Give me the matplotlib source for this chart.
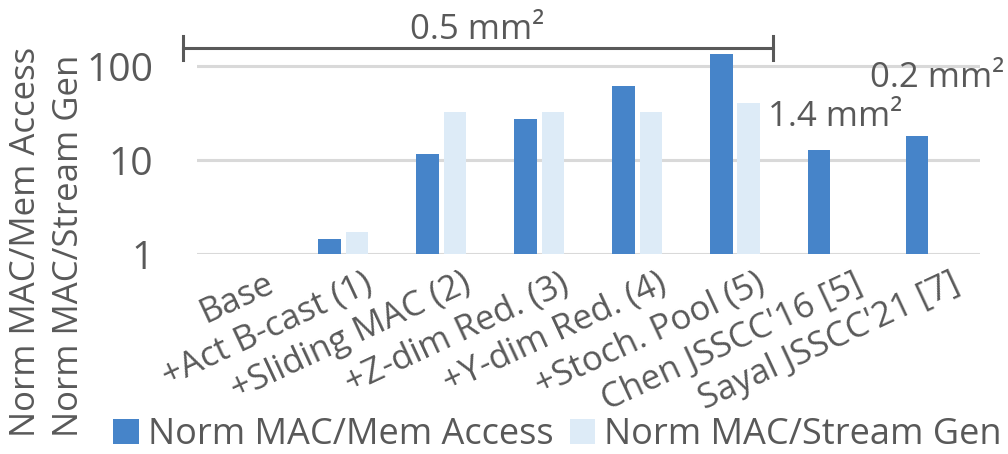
import matplotlib
matplotlib.use("Agg")
import matplotlib.pyplot as plt
import matplotlib.transforms as mtransforms
import numpy as np

plt.rcParams['font.family'] = ['Open Sans', 'DejaVu Sans']

# values (log scale, normalised to Base = 1)
categories = ["Base", "+Act B-cast (1)", "+Sliding MAC (2)", "+Z-dim Red. (3)",
              "+Y-dim Red. (4)", "+Stoch. Pool (5)", "Chen JSSCC'16 [5]",
              "Sayal JSSCC'21 [7]"]
mem_access = [1.0, 1.44, 11.5, 27.3, 60.8, 136, 12.8, 18.1]
stream_gen = [1.0, 1.71, 32.4, 32.4, 32.4, 40.4, np.nan, np.nan]

DARK = '#4684c9'
LIGHT = '#ddebf7'
TXT = '#595959'

fig = plt.figure(figsize=(10.08, 4.54), dpi=100)
ax = fig.add_axes([0.195, 0.4405, 0.777, 0.5175])

x = np.arange(len(categories))
w = 0.23
ax.bar(x - 0.025 - w / 2, np.array(mem_access) - 1, w, bottom=1, color=DARK,
       label='Norm MAC/Mem Access', zorder=3)
ax.bar(x + 0.025 + w / 2, np.array(stream_gen) - 1, w, bottom=1, color=LIGHT,
       label='Norm MAC/Stream Gen', zorder=3)

ax.set_yscale('log')
ax.set_ylim(1, 10 ** 2.5)
ax.set_xlim(-0.5, len(categories) - 0.5)
ax.set_yticks([1, 10, 100])
ax.set_yticklabels(['1', '10', '100'])
ax.minorticks_off()
ax.yaxis.grid(True, color='#d9d9d9', lw=2.2, zorder=0)
for s in ax.spines.values():
    s.set_visible(False)
ax.tick_params(axis='both', length=0)
ax.tick_params(axis='y', labelsize=28, labelcolor=TXT, pad=31)
ax.set_xticks(x)
ax.set_xticklabels(categories, rotation=25, ha='right', va='top',
                   rotation_mode='anchor', fontsize=25, color=TXT)
ax.tick_params(axis='x', pad=9)
shift = mtransforms.ScaledTranslation(0.2, 0, fig.dpi_scale_trans)
for lab in ax.get_xticklabels():
    lab.set_transform(lab.get_transform() + shift)

# area bracket
ax.plot([-0.64, 5.39], [155, 155], color=TXT, lw=2.2, clip_on=False)
for xe in (-0.64, 5.39):
    ax.plot([xe, xe], [155 * 10 ** (-12 / 94), 155 * 10 ** (12 / 94)],
            color=TXT, lw=2.2, clip_on=False)
ax.text(2.37, 240, '0.5 mm²', ha='center', va='center', fontsize=25, color=TXT)
ax.text(6.02, 28.7, '1.4 mm²', ha='center', va='center', fontsize=25, color=TXT)
ax.text(7.06, 74.5, '0.2 mm²', ha='center', va='center', fontsize=25,
        color=TXT, clip_on=False)

fig.text(0.026, 0.037, 'Norm MAC/Mem Access', rotation=90, ha='center',
         va='bottom', fontsize=25, color=TXT)
fig.text(0.068, 0.037, 'Norm MAC/Stream Gen', rotation=90, ha='center',
         va='bottom', fontsize=25, color=TXT)

fig.legend(loc='center', bbox_to_anchor=(0.553, 0.042), ncol=2, frameon=False,
           fontsize=26, labelcolor=TXT, handlelength=0.7, handleheight=0.7,
           handletextpad=0.25, columnspacing=0.45, borderaxespad=0)

fig.savefig('out.png', dpi=100)
